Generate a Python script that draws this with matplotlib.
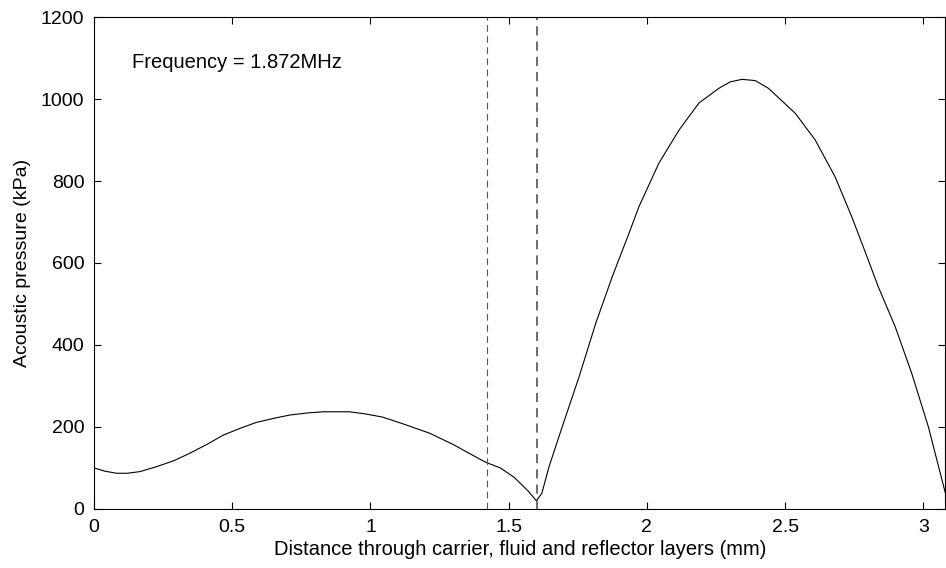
import matplotlib
matplotlib.use("Agg")
import matplotlib.pyplot as plt

# values
distance_mm = [0.0, 0.04, 0.082, 0.12, 0.166, 0.226, 0.29, 0.347, 0.41, 0.467,
               0.53, 0.587, 0.65, 0.708, 0.77, 0.828, 0.924, 0.98, 1.044,
               1.12, 1.213, 1.3, 1.394, 1.42, 1.47, 1.52, 1.57, 1.60, 1.62,
               1.646, 1.694, 1.755, 1.815, 1.875, 1.935, 1.971, 2.043, 2.116,
               2.188, 2.26, 2.302, 2.344, 2.392, 2.44, 2.537, 2.609, 2.681,
               2.741, 2.801, 2.837, 2.898, 2.958, 3.018, 3.08]
pressure_kpa = [100, 92, 87, 87, 91, 103, 118, 136, 158, 180,
                197, 211, 221, 229, 234, 237, 237, 232, 224,
                207, 185, 157, 122, 113, 100, 77, 44, 20, 38,
                103, 201, 323, 453, 567, 672, 737, 843, 924,
                990, 1026, 1042, 1048, 1045, 1026, 965, 900, 810,
                713, 607, 542, 445, 331, 201, 38]
layer_bounds = [1.422, 1.603]
x_ticks = [0, 0.5, 1, 1.5, 2, 2.5, 3]
x_labels = ["0", "0.5", "1", "1.5", "2", "2.5", "3"]
y_ticks = [0, 200, 400, 600, 800, 1000, 1200]

plt.rcParams['font.family'] = ['Liberation Sans', 'DejaVu Sans']
plt.rcParams['font.size'] = 14

fig = plt.figure(figsize=(9.46, 5.68), dpi=100)
ax = fig.add_axes([0.0994, 0.104, 0.9, 0.866])

ax.plot(distance_mm, pressure_kpa, color='black', lw=0.8)
ax.axvline(layer_bounds[0], color='#555555', lw=0.8, ls=(0, (6, 4)))
ax.axvline(layer_bounds[1], color='#444444', lw=1.1, ls=(0, (6, 4)))

ax.text(0.137, 1088, "Frequency = 1.872MHz", ha='left', va='center', fontsize=14.5)

ax.set_xlim(0, 3.08)
ax.set_ylim(0, 1200)
ax.set_xticks(x_ticks)
ax.set_xticklabels(x_labels)
ax.set_yticks(y_ticks)
ax.tick_params(direction='in', top=True, right=True, length=5, width=0.8, pad=7)
for s in ax.spines.values():
    s.set_linewidth(0.8)

ax.set_xlabel("Distance through carrier, fluid and reflector layers (mm)",
              fontsize=14.5, labelpad=3)
ax.set_ylabel("Acoustic pressure (kPa)", labelpad=7)

fig.savefig("out.png", dpi=100)
